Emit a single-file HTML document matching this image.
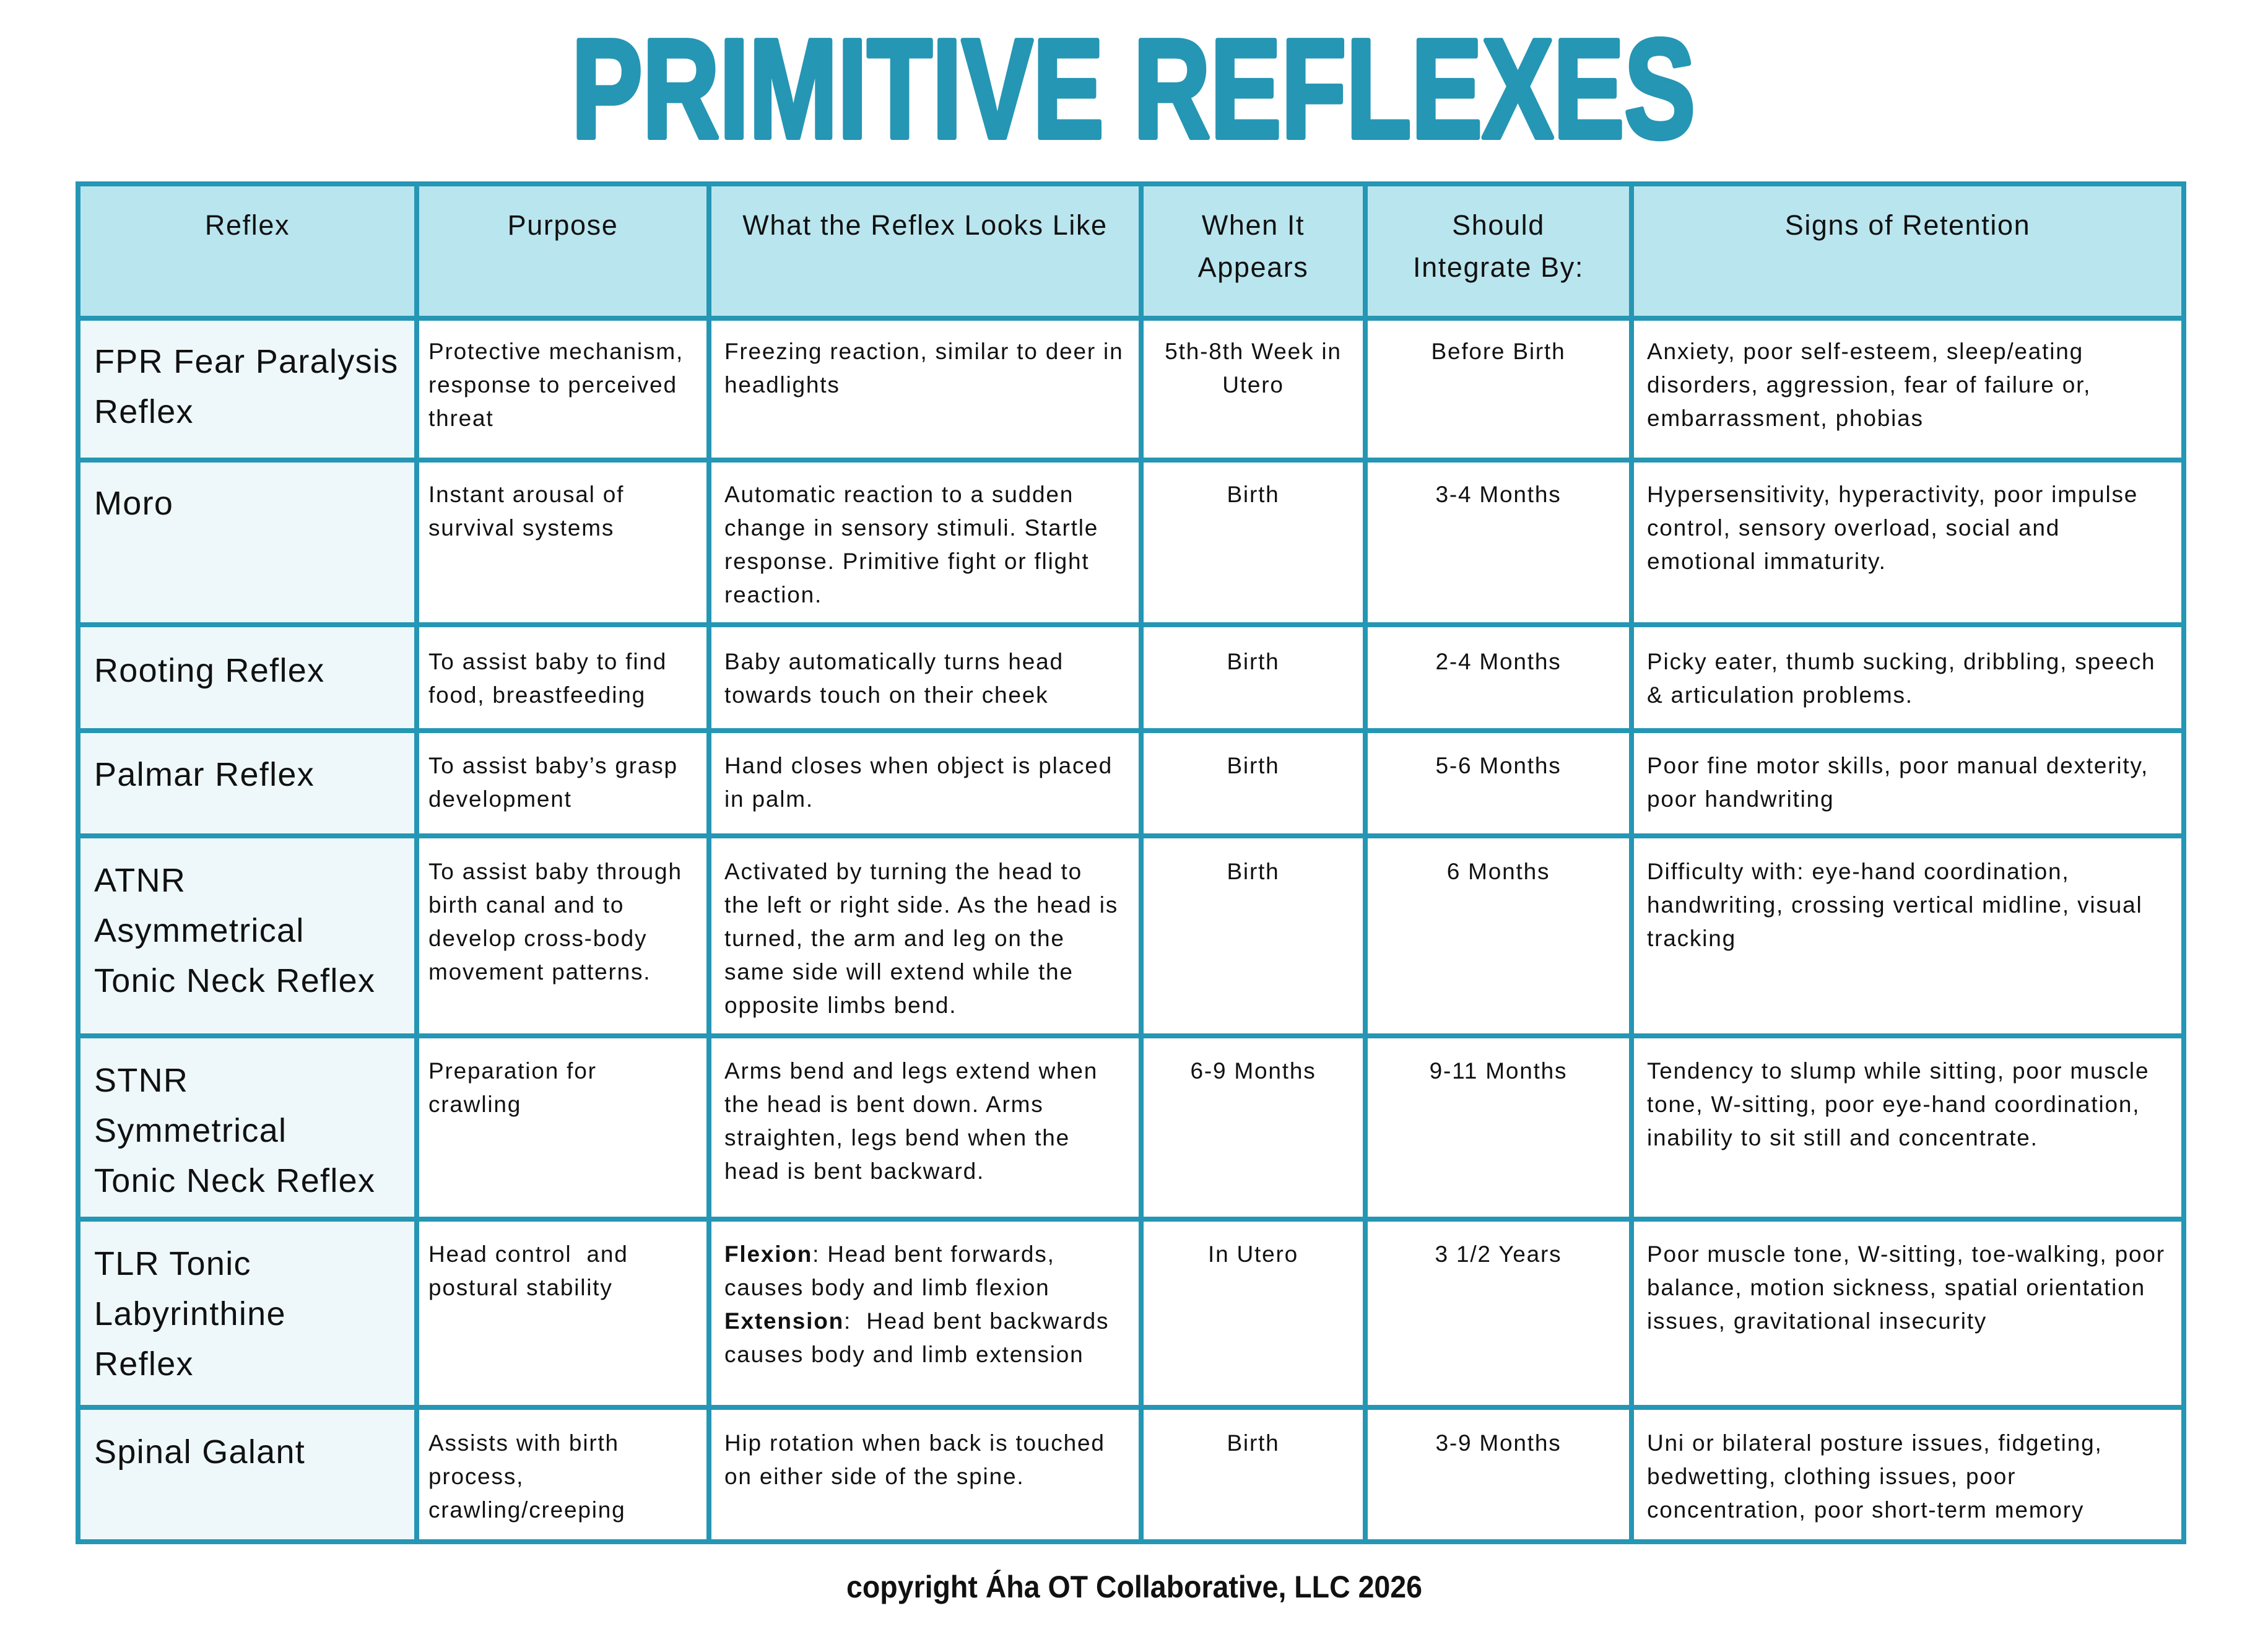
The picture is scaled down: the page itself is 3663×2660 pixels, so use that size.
<!DOCTYPE html>
<html><head><meta charset="utf-8"><style>
html,body{margin:0;padding:0;background:#fff}
#p{position:relative;width:3663px;height:2660px;overflow:hidden;font-family:"Liberation Sans",sans-serif;color:#111}
.bg{position:absolute}
.ln{position:absolute;background:#2596b4}
.t{position:absolute;white-space:nowrap;font-size:37px;line-height:54px;letter-spacing:1.8px}
.h{position:absolute;white-space:nowrap;font-size:45px;line-height:68px;text-align:center;letter-spacing:1.6px}
.f{position:absolute;white-space:nowrap;font-size:54px;line-height:81px;letter-spacing:1.3px}
.c{text-align:center}
</style></head><body><div id="p">
<svg style="position:absolute;left:0;top:0" width="3663" height="260">
<text x="923" y="222" textLength="1815" lengthAdjust="spacingAndGlyphs" font-family="Liberation Sans" font-weight="bold" font-size="228" fill="#2596b4" stroke="#2596b4" stroke-width="8" stroke-linejoin="round">PRIMITIVE REFLEXES</text>
</svg>
<div class="bg" style="left:126px;top:297px;width:3401px;height:217px;background:#b9e5ee"></div>
<div class="bg" style="left:126px;top:514px;width:547px;height:1976px;background:#eef8fa"></div>
<div class="ln" style="left:122px;top:293px;width:3409px;height:8px"></div>
<div class="ln" style="left:122px;top:510px;width:3409px;height:8px"></div>
<div class="ln" style="left:122px;top:739px;width:3409px;height:8px"></div>
<div class="ln" style="left:122px;top:1005px;width:3409px;height:8px"></div>
<div class="ln" style="left:122px;top:1176px;width:3409px;height:8px"></div>
<div class="ln" style="left:122px;top:1346px;width:3409px;height:8px"></div>
<div class="ln" style="left:122px;top:1669px;width:3409px;height:8px"></div>
<div class="ln" style="left:122px;top:1965px;width:3409px;height:8px"></div>
<div class="ln" style="left:122px;top:2269px;width:3409px;height:8px"></div>
<div class="ln" style="left:122px;top:2486px;width:3409px;height:8px"></div>
<div class="ln" style="left:122px;top:293px;width:8px;height:2201px"></div>
<div class="ln" style="left:669px;top:293px;width:8px;height:2201px"></div>
<div class="ln" style="left:1141px;top:293px;width:8px;height:2201px"></div>
<div class="ln" style="left:1839px;top:293px;width:8px;height:2201px"></div>
<div class="ln" style="left:2201px;top:293px;width:8px;height:2201px"></div>
<div class="ln" style="left:2631px;top:293px;width:8px;height:2201px"></div>
<div class="ln" style="left:3523px;top:293px;width:8px;height:2201px"></div>
<div class="h" style="left:130px;width:539px;top:330px">Reflex</div>
<div class="h" style="left:677px;width:464px;top:330px">Purpose</div>
<div class="h" style="left:1149px;width:690px;top:330px">What the Reflex Looks Like</div>
<div class="h" style="left:1847px;width:354px;top:330px">When It<br>Appears</div>
<div class="h" style="left:2209px;width:422px;top:330px">Should<br>Integrate By:</div>
<div class="h" style="left:2639px;width:884px;top:330px">Signs of Retention</div>

<div class="f" style="left:152px;top:544px">FPR Fear Paralysis<br>Reflex</div>
<div class="t" style="left:692px;top:541px">Protective mechanism,<br>response to perceived<br>threat</div>
<div class="t" style="left:1170px;top:541px">Freezing reaction, similar to deer in<br>headlights</div>
<div class="t c" style="left:1847px;width:354px;top:541px">5th-8th Week in<br>Utero</div>
<div class="t c" style="left:2209px;width:422px;top:541px">Before Birth</div>
<div class="t" style="left:2660px;top:541px">Anxiety, poor self-esteem, sleep/eating<br>disorders, aggression, fear of failure or,<br>embarrassment, phobias</div>

<div class="f" style="left:152px;top:773px">Moro</div>
<div class="t" style="left:692px;top:772px">Instant arousal of<br>survival systems</div>
<div class="t" style="left:1170px;top:772px">Automatic reaction to a sudden<br>change in sensory stimuli. Startle<br>response. Primitive fight or flight<br>reaction.</div>
<div class="t c" style="left:1847px;width:354px;top:772px">Birth</div>
<div class="t c" style="left:2209px;width:422px;top:772px">3-4 Months</div>
<div class="t" style="left:2660px;top:772px">Hypersensitivity, hyperactivity, poor impulse<br>control, sensory overload, social and<br>emotional immaturity.</div>

<div class="f" style="left:152px;top:1043px">Rooting Reflex</div>
<div class="t" style="left:692px;top:1042px">To assist baby to find<br>food, breastfeeding</div>
<div class="t" style="left:1170px;top:1042px">Baby automatically turns head<br>towards touch on their cheek</div>
<div class="t c" style="left:1847px;width:354px;top:1042px">Birth</div>
<div class="t c" style="left:2209px;width:422px;top:1042px">2-4 Months</div>
<div class="t" style="left:2660px;top:1042px">Picky eater, thumb sucking, dribbling, speech<br>&amp; articulation problems.</div>

<div class="f" style="left:152px;top:1211px">Palmar Reflex</div>
<div class="t" style="left:692px;top:1210px">To assist baby’s grasp<br>development</div>
<div class="t" style="left:1170px;top:1210px">Hand closes when object is placed<br>in palm.</div>
<div class="t c" style="left:1847px;width:354px;top:1210px">Birth</div>
<div class="t c" style="left:2209px;width:422px;top:1210px">5-6 Months</div>
<div class="t" style="left:2660px;top:1210px">Poor fine motor skills, poor manual dexterity,<br>poor handwriting</div>

<div class="f" style="left:152px;top:1382px">ATNR<br>Asymmetrical<br>Tonic Neck Reflex</div>
<div class="t" style="left:692px;top:1381px">To assist baby through<br>birth canal and to<br>develop cross-body<br>movement patterns.</div>
<div class="t" style="left:1170px;top:1381px">Activated by turning the head to<br>the left or right side. As the head is<br>turned, the arm and leg on the<br>same side will extend while the<br>opposite limbs bend.</div>
<div class="t c" style="left:1847px;width:354px;top:1381px">Birth</div>
<div class="t c" style="left:2209px;width:422px;top:1381px">6 Months</div>
<div class="t" style="left:2660px;top:1381px">Difficulty with: eye-hand coordination,<br>handwriting, crossing vertical midline, visual<br>tracking</div>

<div class="f" style="left:152px;top:1705px">STNR<br>Symmetrical<br>Tonic Neck Reflex</div>
<div class="t" style="left:692px;top:1703px">Preparation for<br>crawling</div>
<div class="t" style="left:1170px;top:1703px">Arms bend and legs extend when<br>the head is bent down. Arms<br>straighten, legs bend when the<br>head is bent backward.</div>
<div class="t c" style="left:1847px;width:354px;top:1703px">6-9 Months</div>
<div class="t c" style="left:2209px;width:422px;top:1703px">9-11 Months</div>
<div class="t" style="left:2660px;top:1703px">Tendency to slump while sitting, poor muscle<br>tone, W-sitting, poor eye-hand coordination,<br>inability to sit still and concentrate.</div>

<div class="f" style="left:152px;top:2001px">TLR Tonic<br>Labyrinthine<br>Reflex</div>
<div class="t" style="left:692px;top:1999px">Head control &nbsp;and<br>postural stability</div>
<div class="t" style="left:1170px;top:1999px"><b>Flexion</b>: Head bent forwards,<br>causes body and limb flexion<br><b>Extension</b>: &nbsp;Head bent backwards<br>causes body and limb extension</div>
<div class="t c" style="left:1847px;width:354px;top:1999px">In Utero</div>
<div class="t c" style="left:2209px;width:422px;top:1999px">3 1/2 Years</div>
<div class="t" style="left:2660px;top:1999px">Poor muscle tone, W-sitting, toe-walking, poor<br>balance, motion sickness, spatial orientation<br>issues, gravitational insecurity</div>

<div class="f" style="left:152px;top:2305px">Spinal Galant</div>
<div class="t" style="left:692px;top:2304px">Assists with birth<br>process,<br>crawling/creeping</div>
<div class="t" style="left:1170px;top:2304px">Hip rotation when back is touched<br>on either side of the spine.</div>
<div class="t c" style="left:1847px;width:354px;top:2304px">Birth</div>
<div class="t c" style="left:2209px;width:422px;top:2304px">3-9 Months</div>
<div class="t" style="left:2660px;top:2304px">Uni or bilateral posture issues, fidgeting,<br>bedwetting, clothing issues, poor<br>concentration, poor short-term memory</div>

<svg style="position:absolute;left:0;top:2500px" width="3663" height="160">
<text x="1367" y="80" textLength="930" lengthAdjust="spacingAndGlyphs" font-family="Liberation Sans" font-weight="bold" font-size="50" fill="#111">copyright  Áha OT Collaborative, LLC 2026</text>
</svg>
</div></body></html>
